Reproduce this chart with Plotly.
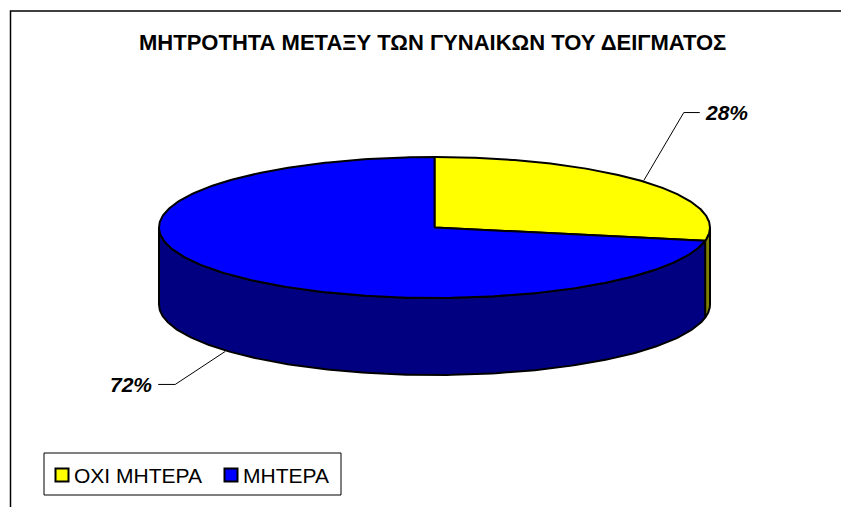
import numpy as np
import plotly.graph_objects as go

# ---- data ----
categories = ["ΟΧΙ ΜΗΤΕΡΑ", "ΜΗΤΕΡΑ"]
values = [28, 72]
top_colors = ["#FFFF00", "#0000FF"]
side_colors = ["#808000", "#000080"]
title_text = "ΜΗΤΡΟΤΗΤΑ ΜΕΤΑΞΥ ΤΩΝ ΓΥΝΑΙΚΩΝ ΤΟΥ ΔΕΙΓΜΑΤΟΣ"

# ---- geometry (pixel space) ----
W, H = 841, 507
cx, cy = 434.5, 227.5
rx, ry = 275.5, 70.5
depth = 77
FONT = "Arial, Liberation Sans, sans-serif"


def pt(theta_deg, dy=0.0):
    t = np.radians(theta_deg)
    return cx + rx * np.sin(t), cy - ry * np.cos(t) + dy


fig = go.Figure()

total = sum(values)
angles = [0.0]
for v in values:
    angles.append(angles[-1] + 360.0 * v / total)

# side faces (front half: 90..270 degrees clockwise from top)
for i in range(len(values)):
    a0, a1 = max(angles[i], 90.0), min(angles[i + 1], 270.0)
    if a1 <= a0:
        continue
    th = np.linspace(a0, a1, 200)
    xt, yt = pt(th)
    xb, yb = pt(th[::-1], depth)
    xs = np.concatenate([xt, xb, xt[:1]])
    ys = np.concatenate([yt, yb, yt[:1]])
    fig.add_trace(go.Scatter(x=xs, y=ys, mode="lines", fill="toself",
                             fillcolor=side_colors[i],
                             line=dict(color="black", width=2),
                             hoverinfo="skip", showlegend=False))

# top slices
for i in range(len(values)):
    th = np.linspace(angles[i], angles[i + 1], 300)
    xa, ya = pt(th)
    xs = np.concatenate([[cx], xa, [cx]])
    ys = np.concatenate([[cy], ya, [cy]])
    fig.add_trace(go.Scatter(x=xs, y=ys, mode="lines", fill="toself",
                             fillcolor=top_colors[i],
                             line=dict(color="black", width=2),
                             hoverinfo="skip", showlegend=False))

# data labels with leader lines
annotations = []
for i in range(len(values)):
    mid = (angles[i] + angles[i + 1]) / 2
    front = 90 < mid < 270
    sx, sy = pt(mid, depth if front else 0)
    right = np.sin(np.radians(mid)) > 0
    if right:
        sx, sy = sx - 3, sy - 2
        ex, ey = sx + 40, sy - 68
        hx = ex + 16
        tx, anchor = hx + 3, "left"
    else:
        sx, sy = sx + 3, sy + 2
        ex, ey = sx - 50, sy + 33
        hx = ex - 17
        tx, anchor = hx - 4, "right"
    fig.add_trace(go.Scatter(x=[sx, ex, hx], y=[sy, ey, ey], mode="lines",
                             line=dict(color="black", width=1),
                             hoverinfo="skip", showlegend=False))
    annotations.append(dict(x=tx, y=ey, xref="x", yref="y",
                            text="<b><i>%d%%</i></b>" % round(100 * values[i] / total),
                            showarrow=False, xanchor=anchor, yanchor="middle",
                            font=dict(family=FONT, size=21, color="black")))

# title
annotations.append(dict(x=432, y=42, xref="x", yref="y",
                        text="<b>" + title_text + "</b>", showarrow=False,
                        xanchor="center", yanchor="middle",
                        font=dict(family=FONT, size=22, color="black")))

# manual legend (box, swatches, labels)
leg_box = dict(x0=44, y0=453, x1=341, y1=495)
swatch_x = [62, 231]
text_x = [72, 241]
leg_y = 475
fig.add_trace(go.Scatter(x=swatch_x, y=[leg_y] * len(categories), mode="markers",
                         marker=dict(symbol="square", size=13, color=top_colors,
                                     line=dict(color="black", width=2)),
                         hoverinfo="skip", showlegend=False))
for i, c in enumerate(categories):
    annotations.append(dict(x=text_x[i], y=leg_y, xref="x", yref="y", text=c,
                            showarrow=False, xanchor="left", yanchor="middle",
                            font=dict(family=FONT, size=21, color="black")))

fig.update_layout(
    width=W, height=H,
    margin=dict(l=0, r=0, t=0, b=0),
    paper_bgcolor="white", plot_bgcolor="white",
    xaxis=dict(range=[0, W], visible=False, fixedrange=True),
    yaxis=dict(range=[H, 0], visible=False, fixedrange=True),
    showlegend=False,
    annotations=annotations,
    shapes=[
        dict(type="rect", xref="x", yref="y", x0=10.5, y0=11, x1=W + 20, y1=H + 20,
             line=dict(color="black", width=1.5), layer="below"),
        dict(type="rect", xref="x", yref="y", **leg_box,
             line=dict(color="black", width=1), fillcolor="white", layer="below"),
    ],
)

fig.write_html("out.html")
